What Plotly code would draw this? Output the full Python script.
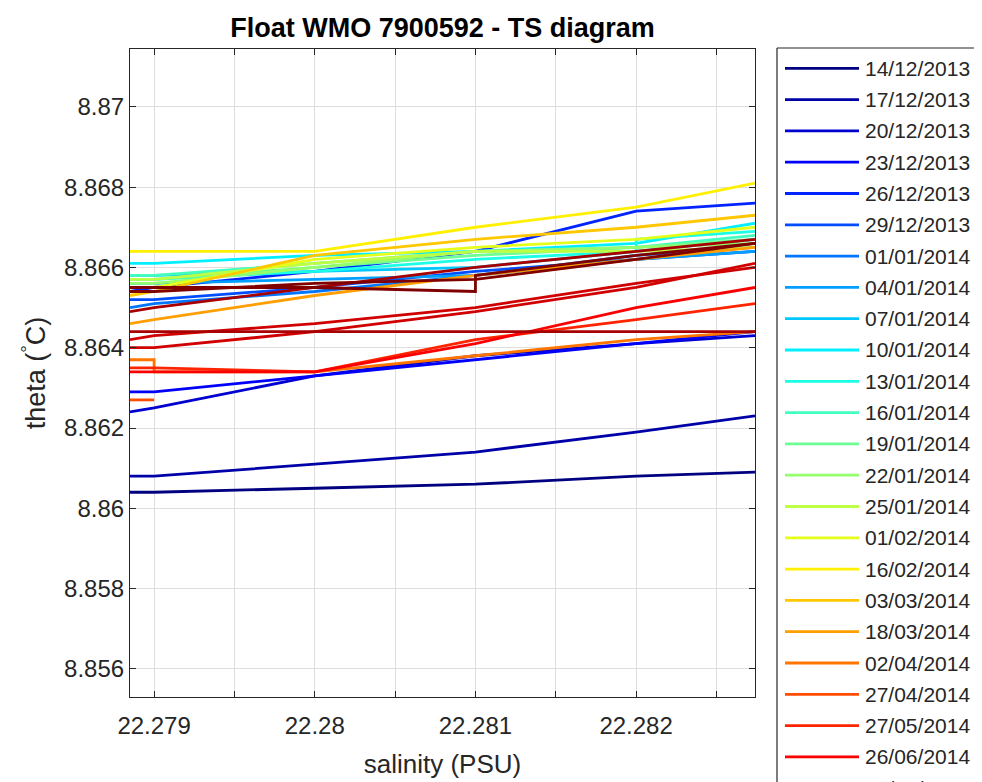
import plotly.graph_objects as go

# ---------------- data ----------------
dates = ["14/12/2013", "17/12/2013", "20/12/2013", "23/12/2013", "26/12/2013",
         "29/12/2013", "01/01/2014", "04/01/2014", "07/01/2014", "10/01/2014",
         "13/01/2014", "16/01/2014", "19/01/2014", "22/01/2014", "25/01/2014",
         "01/02/2014", "16/02/2014", "03/03/2014", "18/03/2014", "02/04/2014",
         "27/04/2014", "27/05/2014", "26/06/2014", "26/07/2014", "25/08/2014",
         "24/09/2014"]

L, R = 22.27885, 22.28274
grid = [L, 22.279, 22.280, 22.281, 22.282, R]

# salinity (PSU) per profile
sal = [
    grid, grid, grid, grid, grid,
    grid, grid, grid, grid, grid,
    [L, 22.279, 22.280, 22.281, 22.282, 22.282, R],
    grid, grid, grid, grid,
    grid, grid, grid, grid,
    [L, 22.279, 22.279, 22.280, 22.281, 22.282, R],
    [L, 22.279],
    grid, grid,
    grid + [None] + grid,
    grid + [None] + grid,
    [L, 22.279, 22.280, 22.281, 22.281, 22.282, R] + [None] + grid,
]

# potential temperature (deg C) per profile
theta = [
    [8.8604, 8.8604, 8.8605, 8.8606, 8.8608, 8.8609],
    [8.8608, 8.8608, 8.8611, 8.8614, 8.8619, 8.8623],
    [8.8624, 8.8625, 8.8633, 8.8638, 8.8641, 8.8643],
    [8.8629, 8.8629, 8.8633, 8.8637, 8.8641, 8.8644],
    [8.8654, 8.8655, 8.8659, 8.8664, 8.8674, 8.8676],
    [8.8652, 8.8652, 8.8655, 8.8659, 8.8662, 8.8664],
    [8.8650, 8.8651, 8.8654, 8.8658, 8.8663, 8.8665],
    [8.8656, 8.8656, 8.8657, 8.8658, 8.8662, 8.8664],
    [8.8658, 8.8658, 8.8659, 8.8660, 8.8664, 8.8667],
    [8.8661, 8.8661, 8.8663, 8.8664, 8.8666, 8.8671],
    [8.8657, 8.8657, 8.8659, 8.8662, 8.8664, 8.8667, 8.8669],
    [8.8658, 8.8658, 8.8661, 8.8664, 8.8665, 8.8668],
    [8.8657, 8.8657, 8.8660, 8.8663, 8.8665, 8.8667],
    [8.8656, 8.8656, 8.8660, 8.8664, 8.8665, 8.8666],
    [8.8657, 8.8657, 8.8661, 8.8664, 8.8664, 8.8665],
    [8.8655, 8.8655, 8.8662, 8.8665, 8.8667, 8.8670],
    [8.8664, 8.8664, 8.8664, 8.8670, 8.8675, 8.8681],
    [8.8653, 8.8654, 8.8663, 8.8667, 8.8670, 8.8673],
    [8.8646, 8.8647, 8.8653, 8.8658, 8.8662, 8.8665],
    [8.8637, 8.8637, 8.8634, 8.8634, 8.8638, 8.8642, 8.8644],
    [8.8627, 8.8627],
    [8.8635, 8.8635, 8.8634, 8.8642, 8.8647, 8.8651],
    [8.8634, 8.8634, 8.8634, 8.8641, 8.8650, 8.8655],
    [8.8642, 8.8643, 8.8646, 8.8650, 8.8656, 8.8660, None,
     8.8640, 8.8640, 8.8644, 8.8649, 8.8655, 8.8661],
    [8.8644, 8.8644, 8.8644, 8.8644, 8.8644, 8.8644, None,
     8.8649, 8.8650, 8.8655, 8.8660, 8.8664, 8.8667],
    [8.8655, 8.8655, 8.8655, 8.8654, 8.8658, 8.8663, 8.8666, None,
     8.8654, 8.8654, 8.8656, 8.8657, 8.8662, 8.8666],
]

x_ticks = [22.279, 22.2795, 22.280, 22.2805, 22.281, 22.2815, 22.282, 22.2825]
x_tick_text = ["22.279", " ", "22.28", " ", "22.281", " ", "22.282", " "]
y_ticks = [8.856, 8.858, 8.860, 8.862, 8.864, 8.866, 8.868, 8.870]
y_tick_text = ["8.856", "8.858", "8.86", "8.862", "8.864", "8.866", "8.868", "8.87"]


def jet(v):
    def c(t):
        return max(0.0, min(1.0, 1.5 - abs(t)))
    r, g, b = c(4 * v - 3), c(4 * v - 2), c(4 * v - 1)
    return "rgb(%d,%d,%d)" % (round(r * 255), round(g * 255), round(b * 255))


n = len(dates)
colors = [jet(i / (n - 1)) for i in range(n)]

FONT = "Liberation Sans, Arial, Helvetica, sans-serif"
TXT = "#262626"

fig = go.Figure()
for i in range(n):
    fig.add_trace(go.Scatter(
        x=sal[i], y=theta[i], mode="lines", name=dates[i],
        line=dict(color=colors[i], width=2.8),
        connectgaps=False, showlegend=False))

# page offset (body margin) and figure geometry in screen pixels
OFF = 8
W, H = 982 - OFF, 782 - OFF
ml, mr, mt, mb = 130 - OFF, W - (755 - OFF), 49 - OFF, H - (697 - OFF)
pw, ph = W - ml - mr, H - mt - mb


def px(xs):
    return (xs - OFF - ml) / pw


def py(ys):
    return (H - mb - (ys - OFF)) / ph


shapes = [
    dict(type="line", xref="paper", yref="paper", x0=px(777), x1=px(1000),
         y0=py(48), y1=py(48), line=dict(color=TXT, width=1.2)),
    dict(type="line", xref="paper", yref="paper", x0=px(777), x1=px(777),
         y0=py(48), y1=py(800), line=dict(color=TXT, width=1.2)),
]
annotations = []
for i, d in enumerate(dates):
    yc = 68.3 + 31.3 * i
    shapes.append(dict(type="line", xref="paper", yref="paper",
                       x0=px(785), x1=px(859), y0=py(yc), y1=py(yc),
                       line=dict(color=colors[i], width=2.8)))
    if yc < 795:
        annotations.append(dict(xref="paper", yref="paper", x=px(863), y=py(yc),
                                text=d, showarrow=False, xanchor="left", yanchor="middle",
                                font=dict(family=FONT, size=21, color=TXT)))

fig.update_layout(
    width=W, height=H,
    margin=dict(l=ml, r=mr, t=mt, b=mb, pad=0, autoexpand=False),
    paper_bgcolor="white", plot_bgcolor="white",
    font=dict(family=FONT, color=TXT, size=24),
    title=dict(text="<b>Float WMO 7900592 - TS diagram</b>", x=(ml + pw / 2) / W,
               xanchor="center", y=1 - (28 - OFF) / H, yanchor="middle",
               font=dict(family=FONT, size=27, color="black")),
    shapes=shapes, annotations=annotations,
    showlegend=False,
)
fig.update_xaxes(
    range=[L, R], tickvals=x_ticks, ticktext=x_tick_text, automargin=False,
    showgrid=True, gridcolor="#dedede", gridwidth=1,
    ticks="inside", ticklen=6, tickcolor=TXT, tickwidth=1,
    showline=True, linecolor=TXT, linewidth=1.2, mirror="ticks",
    zeroline=False, tickfont=dict(size=24, color=TXT), ticklabelstandoff=7,
    title=dict(text="salinity (PSU)", font=dict(size=26, color=TXT), standoff=16),
)
fig.update_yaxes(
    range=[8.8553, 8.87144], tickvals=y_ticks, ticktext=y_tick_text, automargin=False,
    showgrid=True, gridcolor="#dedede", gridwidth=1,
    ticks="inside", ticklen=6, tickcolor=TXT, tickwidth=1,
    showline=True, linecolor=TXT, linewidth=1.2, mirror="ticks",
    zeroline=False, tickfont=dict(size=24, color=TXT),
    title=dict(text="theta (<sup>°</sup>C)", font=dict(size=27, color=TXT), standoff=10),
)

fig.write_html("out.html")
